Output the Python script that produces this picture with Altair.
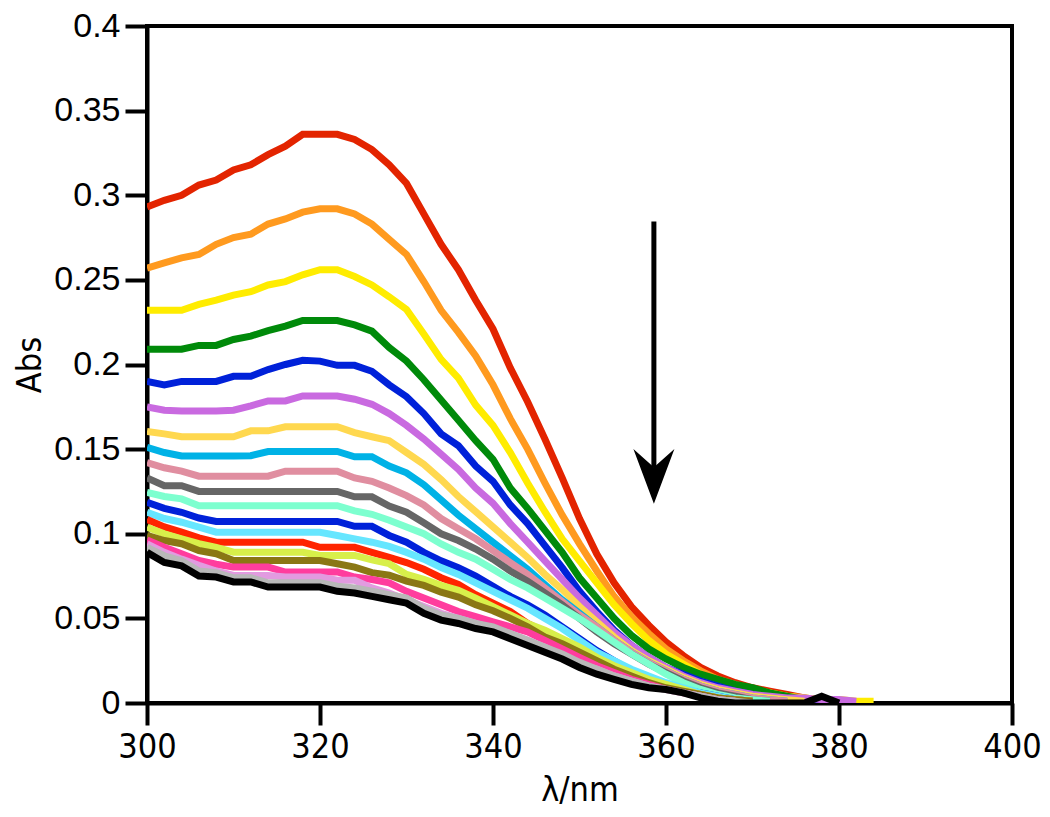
import altair as alt
import pandas as pd

# wavelengths start at 300 nm, 2 nm step
start_nm = 300
step_nm = 2

red = [.293, .297, .300, .306, .309, .315, .318, .324, .329, .336, .336, .336, .333, .327, .318, .307, .289, .271, .256, .238, .221, .198, .178, .156, .133, .109, .088, .071, .057, .046, .036, .028, .021, .016, .012, .009, .007, .005, .003, .001]
orange = [.257, .260, .263, .265, .271, .275, .277, .283, .286, .290, .292, .292, .289, .283, .274, .265, .249, .232, .219, .205, .188, .168, .150, .130, .111, .094, .078, .063, .051, .041, .032, .025, .019, .014, .011, .008, .006, .004, .003, .002, .001]
yellow = [.232, .232, .232, .2355, .238, .241, .243, .247, .249, .253, .256, .256, .252, .247, .240, .2325, .218, .203, .192, .176, .164, .148, .130, .113, .097, .084, .071, .058, .047, .037, .029, .023, .017, .013, .010, .008, .006, .004, .003, .002, .002, .001, .001]
green = [.209, .209, .209, .2113, .2113, .2148, .2168, .220, .2227, .226, .226, .226, .2234, .2197, .210, .202, .191, .179, .167, .155, .144, .127, .115, .102, .089, .074, .062, .050, .040, .032, .026, .021, .017, .014, .011, .009, .006, .004, .002]
blue = [.190, .188, .190, .190, .190, .193, .193, .197, .200, .2025, .202, .1995, .1995, .196, .188, .181, .171, .159, .152, .140, .131, .117, .106, .093, .080, .066, .054, .043, .034, .027, .021, .017, .013, .010, .007, .005, .003, .002, .001, .001]
violet = [.175, .173, .1726, .1726, .1726, .173, .1756, .1785, .1785, .1814, .1814, .1814, .1795, .1765, .171, .164, .156, .147, .138, .127, .118, .106, .095, .084, .073, .062, .052, .042, .034, .027, .021, .016, .012, .009, .007, .005, .004, .003, .003, .002, .002, .001]
gold = [.1605, .159, .1573, .1573, .1573, .1573, .1608, .1608, .1632, .1632, .1632, .1632, .1598, .1573, .155, .148, .141, .132, .122, .113, .104, .095, .086, .076, .067, .057, .048, .039, .031, .025, .020, .015, .011, .008, .006, .004, .003, .002, .001]
sky = [.151, .148, .146, .146, .146, .146, .1461, .1486, .1486, .1486, .1486, .1486, .1455, .1455, .140, .136, .129, .120, .111, .103, .095, .087, .079, .070, .061, .053, .045, .037, .030, .024, .019, .014, .010, .007, .005, .003, .002, .001]
pink = [.142, .139, .137, .134, .134, .134, .134, .134, .137, .137, .137, .137, .133, .131, .127, .1225, .117, .109, .103, .097, .090, .083, .076, .068, .060, .052, .045, .037, .030, .024, .019, .014, .010, .007, .005, .003, .002, .001]
gray = [.133, .1284, .1284, .125, .125, .125, .125, .125, .125, .125, .125, .125, .1218, .1218, .1163, .1127, .1065, .100, .096, .091, .085, .078, .072, .065, .058, .050, .042, .035, .029, .023, .018, .013, .009, .006, .004, .002, .001]
aqua = [.1245, .122, .1206, .1166, .1166, .1166, .1166, .1166, .1166, .1166, .1166, .1166, .1135, .1115, .108, .104, .100, .094, .089, .085, .079, .073, .068, .062, .056, .050, .043, .036, .029, .023, .017, .012, .008, .005, .003, .002, .001]
blue2 = [.1186, .115, .1127, .1093, .1073, .1073, .1073, .1073, .1073, .1073, .1073, .1073, .1044, .1044, .099, .095, .089, .084, .080, .075, .069, .063, .058, .052, .045, .038, .031, .025, .019, .015, .011, .008, .006, .004, .002, .001]
cyan = [.1127, .109, .1068, .1039, .1009, .1009, .1009, .1009, .1009, .1009, .1009, .099, .097, .095, .0925, .089, .085, .080, .076, .071, .066, .061, .056, .050, .044, .037, .030, .025, .020, .016, .012, .009, .006, .004, .002, .001]
red2 = [.1085, .104, .101, .0976, .095, .095, .095, .095, .095, .095, .092, .092, .092, .089, .086, .083, .079, .074, .070, .064, .059, .054, .047, .042, .035, .029, .024, .020, .016, .013, .010, .007, .005, .003, .002, .001]
yellowgreen = [.1039, .100, .097, .0941, .092, .0891, .0891, .0891, .0891, .0891, .0872, .0872, .0872, .0846, .0823, .076, .073, .0695, .0666, .062, .057, .052, .047, .043, .038, .033, .027, .022, .018, .014, .011, .008, .005, .003, .002, .001]
olive = [.099, .096, .0941, .0901, .0882, .0842, .0842, .0842, .0842, .0842, .0842, .0823, .0803, .077, .0755, .072, .0695, .0655, .0626, .058, .0545, .050, .045, .039, .035, .030, .025, .020, .016, .012, .009, .007, .005, .003, .002, .001]
hotpink = [.0964, .092, .0882, .0842, .082, .0803, .0803, .0803, .0774, .0774, .0774, .0774, .0744, .073, .071, .066, .062, .058, .054, .051, .048, .045, .042, .037, .032, .027, .022, .018, .014, .011, .008, .006, .004, .002, .001]
plum = [.094, .089, .085, .0813, .078, .0754, .0754, .0754, .0744, .0744, .0744, .0725, .0725, .068, .065, .061, .057, .053, .050, .047, .044, .041, .037, .033, .028, .023, .020, .016, .013, .010, .008, .006, .004, .002, .001]
lightgray = [.092, .087, .084, .078, .077, .074, .074, .071, .071, .071, .071, .069, .068, .066, .064, .062, .056, .052, .050, .047, .045, .041, .037, .033, .029, .024, .020, .016, .013, .010, .008, .006, .004, .002, .001, .000]
black = [.089, .083, .081, .075, .0744, .0715, .0715, .0685, .0685, .0685, .0685, .066, .065, .063, .061, .059, .053, .049, .047, .044, .042, .038, .034, .030, .026, .021, .017, .014, .011, .009, .008, .006, .003, .001, 0, 0, 0, 0, 0, .004, 0]

series = [red, orange, yellow, green, blue, violet, gold, sky, pink, gray,
          aqua, blue2, cyan, red2, yellowgreen, olive, hotpink, plum, lightgray, black]
colors = ["#e32400", "#ff9a1f", "#ffec00", "#008a0a", "#0021d9", "#c96ae0",
          "#ffd84f", "#00b2e6", "#e08ea0", "#666666", "#7dffcf", "#0021d9",
          "#66e6ff", "#ff2400", "#d8ef4a", "#8a7714", "#ff3d9e", "#e29be0",
          "#b8b8b8", "#000000"]
names = [f"s{i+1:02d}" for i in range(len(series))]

x_ticks = [300, 320, 340, 360, 380, 400]
y_ticks = [0, 0.05, 0.1, 0.15, 0.2, 0.25, 0.3, 0.35, 0.4]

rows = []
for name, vals in zip(names, series):
    for i, v in enumerate(vals):
        rows.append({"series": name, "nm": start_nm + step_nm * i, "abs": v, "idx": i})
df = pd.DataFrame(rows)

# arrow annotation (data coordinates)
arrow_x = [358.6]
arrow_top = [0.2845]
arrow_bottom = [0.139]
head_center = [0.1339]

x_scale = alt.Scale(domain=[300, 400], nice=False, zero=False)
y_scale = alt.Scale(domain=[0, 0.4], nice=False, zero=False)

narrow = "Liberation Sans Narrow, Arial Narrow, DejaVu Sans Condensed, Liberation Sans"

lines = alt.Chart(df).mark_line(strokeWidth=7, clip=True).encode(
    x=alt.X("nm:Q", scale=x_scale,
            axis=alt.Axis(values=x_ticks, format="d", title="λ/nm", titleY=70,
                          labelFlush=False, labelOverlap=False)),
    y=alt.Y("abs:Q", scale=y_scale,
            axis=alt.Axis(values=y_ticks, format="~g", title="Abs", titleX=-100,
                          labelFlush=False, labelOverlap=False)),
    color=alt.Color("series:N", scale=alt.Scale(domain=names, range=colors), legend=None),
    order="idx:Q",
)

adf = pd.DataFrame({"x": arrow_x, "y": arrow_top, "y2": arrow_bottom, "yh": head_center})
shaft = alt.Chart(adf).mark_rule(strokeWidth=5, color="black").encode(
    x=alt.X("x:Q", scale=x_scale), y=alt.Y("y:Q", scale=y_scale), y2="y2:Q")
head = alt.Chart(adf).mark_point(
    shape="M -1 -1.34 L 0 -0.45 L 1 -1.34 L 0 1.34 Z", filled=True,
    color="black", opacity=1, size=1681, strokeWidth=0).encode(
    x=alt.X("x:Q", scale=x_scale), y=alt.Y("yh:Q", scale=y_scale))

chart = alt.layer(lines, shaft, head).properties(
    width=865, height=677,
    autosize=alt.AutoSizeParams(type="none"),
    padding={"left": 139, "top": 18, "right": 30, "bottom": 110},
).configure_view(
    stroke="black", strokeWidth=4
).configure_axis(
    grid=False, domainColor="black", domainWidth=4, tickColor="black",
    tickWidth=4, tickSize=22, labelColor="black", titleColor="black",
    labelPadding=5, titleFontWeight="normal",
).configure_axisX(
    labelFont=narrow, labelFontSize=34, titleFont=narrow, titleFontSize=34,
).configure_axisY(
    labelFont="Liberation Sans", labelFontSize=34,
    titleFont=narrow, titleFontSize=34,
)

chart.save("out.html", embed_options={"renderer": "svg", "actions": False})
